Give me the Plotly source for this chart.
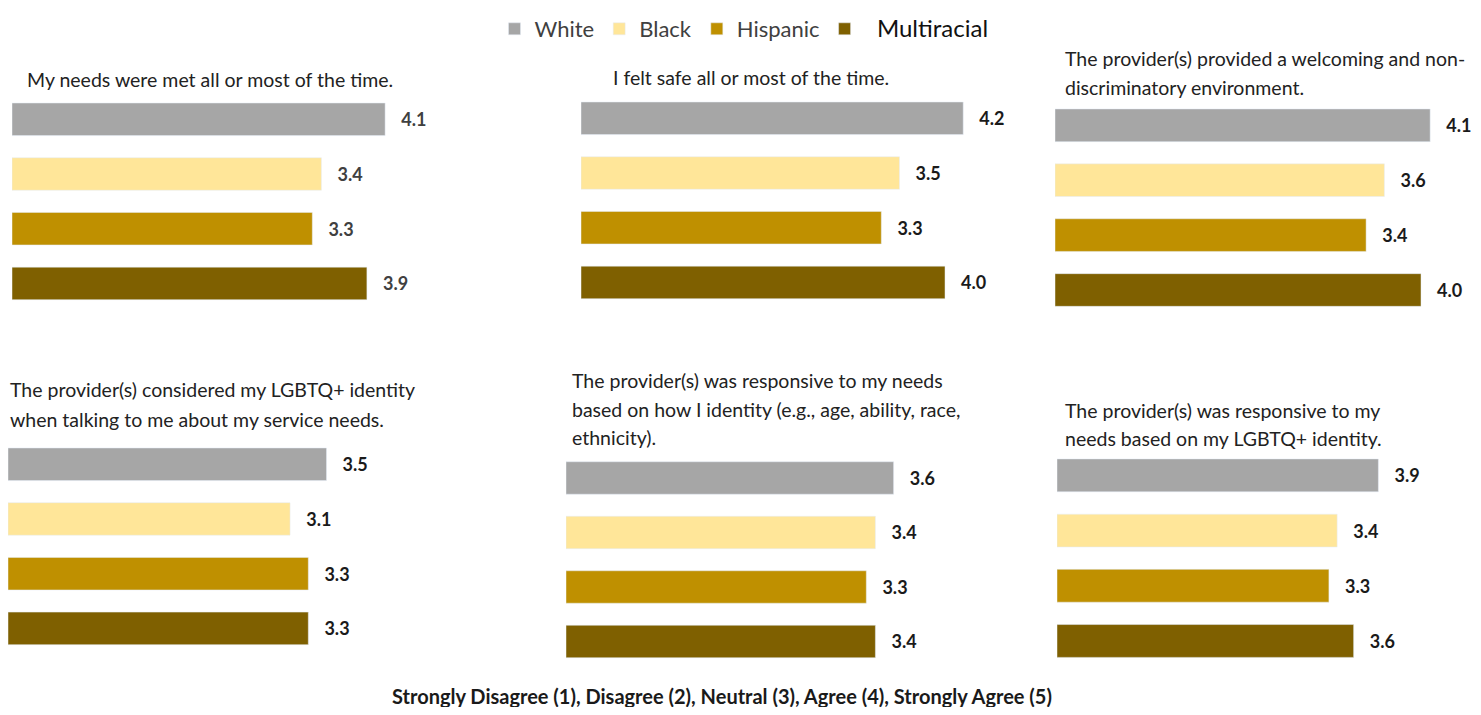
import plotly.graph_objects as go

W, H = 1481, 715
PAD = 8  # default body margin of the html page
FW, FH = W - 2 * PAD, H - 2 * PAD

groups = ["White", "Black", "Hispanic", "Multiracial"]
colors = ["#A6A6A6", "#FFE699", "#BF9000", "#7F6000"]
legend_names = ["White", "Black", "Hispanic",
                "<span style='font-size:24px;fill:#111111'>\u00a0\u00a0Multiracial</span>"]

titles = [
    ["My needs were met all or most of the time."],
    ["I felt safe all or most of the time."],
    ["The provider(s) provided a welcoming and non-", "discriminatory environment."],
    ["The provider(s) considered my LGBTQ+ identity", "when talking to me about my service needs."],
    ["The provider(s) was responsive to my needs",
     "based on how I identity (e.g., age, ability, race,", "ethnicity)."],
    ["The provider(s) was responsive to my", "needs based on my LGBTQ+ identity."],
]

needs_met = [4.1, 3.4, 3.3, 3.9]
felt_safe = [4.2, 3.5, 3.3, 4.0]
welcoming = [4.1, 3.6, 3.4, 4.0]
lgbtq_considered = [3.5, 3.1, 3.3, 3.3]
responsive_identity = [3.6, 3.4, 3.3, 3.4]
responsive_lgbtq = [3.9, 3.4, 3.3, 3.6]
panels = [needs_met, felt_safe, welcoming, lgbtq_considered, responsive_identity, responsive_lgbtq]

# each small chart in screen pixels: left, px per unit, top, pitch, title x, first title line y, line step
boxes = [
    (12, 91.0, 83.0, 55.5, 25, 70, 30),
    (581, 91.0, 82.0, 55.5, 611, 68, 30),
    (1055, 91.5, 89.0, 55.7, 1063, 49, 30),
    (8, 91.0, 433.0, 55.5, 8, 385, 30),
    (566, 91.0, 447.0, 55.3, 570, 376, 29),
    (1057, 82.4, 444.0, 56.0, 1063, 406, 29),
]
label_colors = ["#404040", "#1a1a1a", "#1a1a1a", "#1a1a1a", "#1a1a1a", "#1a1a1a"]
XMAX = 4.5


def px_x(p):
    return (p - PAD) / FW


def px_y(p):
    return 1 - (p - PAD) / FH


fig = go.Figure()
annotations = []
for i, (vals, box) in enumerate(zip(panels, boxes)):
    x0, scale, top, pitch, tx, ty, step = box
    n = "" if i == 0 else str(i + 1)
    for g, lname, c, v in zip(groups, legend_names, colors, vals):
        fig.add_trace(go.Bar(
            x=[v], y=[g], orientation="h", name=lname, marker_color=c,
            showlegend=(i == 0), legendgroup=g,
            texttemplate="\u00a0\u00a0\u00a0%{x:.1f}", textposition="outside",
            textfont=dict(size=18, color=label_colors[i], family="Lato", weight="bold"),
            cliponaxis=False, xaxis="x" + n, yaxis="y" + n,
        ))
    xd = [px_x(x0), min(1, px_x(x0 + XMAX * scale))]
    yd = [px_y(top + 4 * pitch), px_y(top)]
    fig.layout["xaxis" + n] = dict(domain=xd, range=[0, XMAX], visible=False, anchor="y" + n)
    fig.layout["yaxis" + n] = dict(domain=yd, categoryorder="array", categoryarray=groups,
                                   autorange="reversed", visible=False, anchor="x" + n)
    for k, line in enumerate(titles[i]):
        annotations.append(dict(
            text=line, xref="paper", yref="paper", x=px_x(tx), y=px_y(ty + k * step),
            xanchor="left", yanchor="middle", align="left", showarrow=False,
            font=dict(size=19.5, color="#222222", family="Lato"),
        ))

annotations.append(dict(
    text="<b>Strongly Disagree (1), Disagree (2), Neutral (3), Agree (4), Strongly Agree (5)</b>",
    xref="paper", yref="paper", x=px_x(722), y=px_y(696), xanchor="center", yanchor="middle",
    showarrow=False, font=dict(size=20, color="#1a1a1a", family="Lato"),
))

fig.update_layout(
    width=FW, height=FH, margin=dict(l=0, r=0, t=0, b=0),
    paper_bgcolor="white", plot_bgcolor="white",
    bargap=0.405, annotations=annotations,
    legend=dict(orientation="h", x=px_x(744), xanchor="center", y=px_y(19), yanchor="middle",
                font=dict(size=22, color="#404040", family="Lato"), traceorder="normal",
                itemwidth=30),
    font=dict(family="Lato"),
)

fig.write_html("out.html")
